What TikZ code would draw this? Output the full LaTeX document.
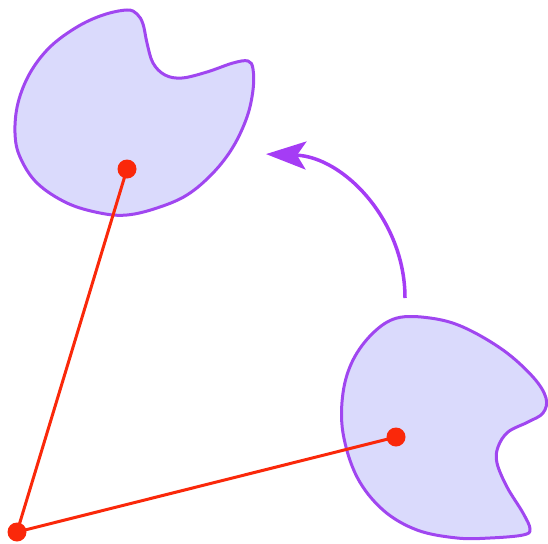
\documentclass[tikz,border=0pt]{standalone}
\usepackage{xcolor}
\usepackage{tikz}
\usetikzlibrary{arrows.meta}
\definecolor{blobfill}{RGB}{218, 218, 252}
\definecolor{blobedge}{RGB}{160, 70, 240}
\definecolor{armred}{RGB}{250, 40, 10}
\definecolor{turnpurple}{RGB}{165, 60, 245}

\begin{document}
\begin{tikzpicture}[x=1pt, y=-1pt,
		blob/.style={blobedge, fill=blobfill, line width=3},
		arm/.style={armred, line width=3},
		dot/.style={armred, fill=armred}]
			\useasboundingbox (0,0) rectangle (548,543);
			
			% SHAPE 1: AFTER ROTATION
			\draw[blob] plot[smooth cycle, tension=0.6] coordinates {
				(127,10) (137,14) (143,24) (147,43) (153,63) (165,75) (182,78) (207,72) (233,63) (248,61)
				(253,69) (253,90) (247,117) (233,147) (213,173) (187,195) (157,208) (127,215)
				(100,213) (67,203) (37,183) (20,157) (15,133) (18,103) (30,73) (50,47) (77,27) (103,15)};
			
			% SHAPE 2: BEFORE ROTATION
			\draw[blob] plot[smooth cycle, tension=0.6] coordinates {
				(397,318) (430,318) (463,327) (503,350) (533,377) (546,398) (543,413) (528,422)
				(508,432) (498,447) (497,463) (507,487) (523,513) (530,529) (523,535) (490,538)
				(457,538) (417,530) (383,510) (357,477) (343,433) (343,393) (353,360) (373,333)};
			
			% PIVOT AND CENTRES
			\coordinate (pivot) at (17,532);
			\coordinate (centreA) at (396,437);
			\coordinate (centreB) at (127,169);
			
			% ARMS
			\draw[arm] (pivot) -- (centreA);
			\draw[arm] (pivot) -- (centreB);
			\fill[dot] (pivot) circle[radius=9.5pt];
			\fill[dot] (centreA) circle[radius=9.5pt];
			\fill[dot] (centreB) circle[radius=9.5pt];
			
			% ARROW
			\coordinate (turnstart) at (405,298);
			\draw[turnpurple, line width=3.5, -{Stealth[length=40pt, width=28pt, inset=9pt]}]
				(turnstart) arc[start angle=0, end angle=-88, radius=144];
			
		\end{tikzpicture}
\end{document}
